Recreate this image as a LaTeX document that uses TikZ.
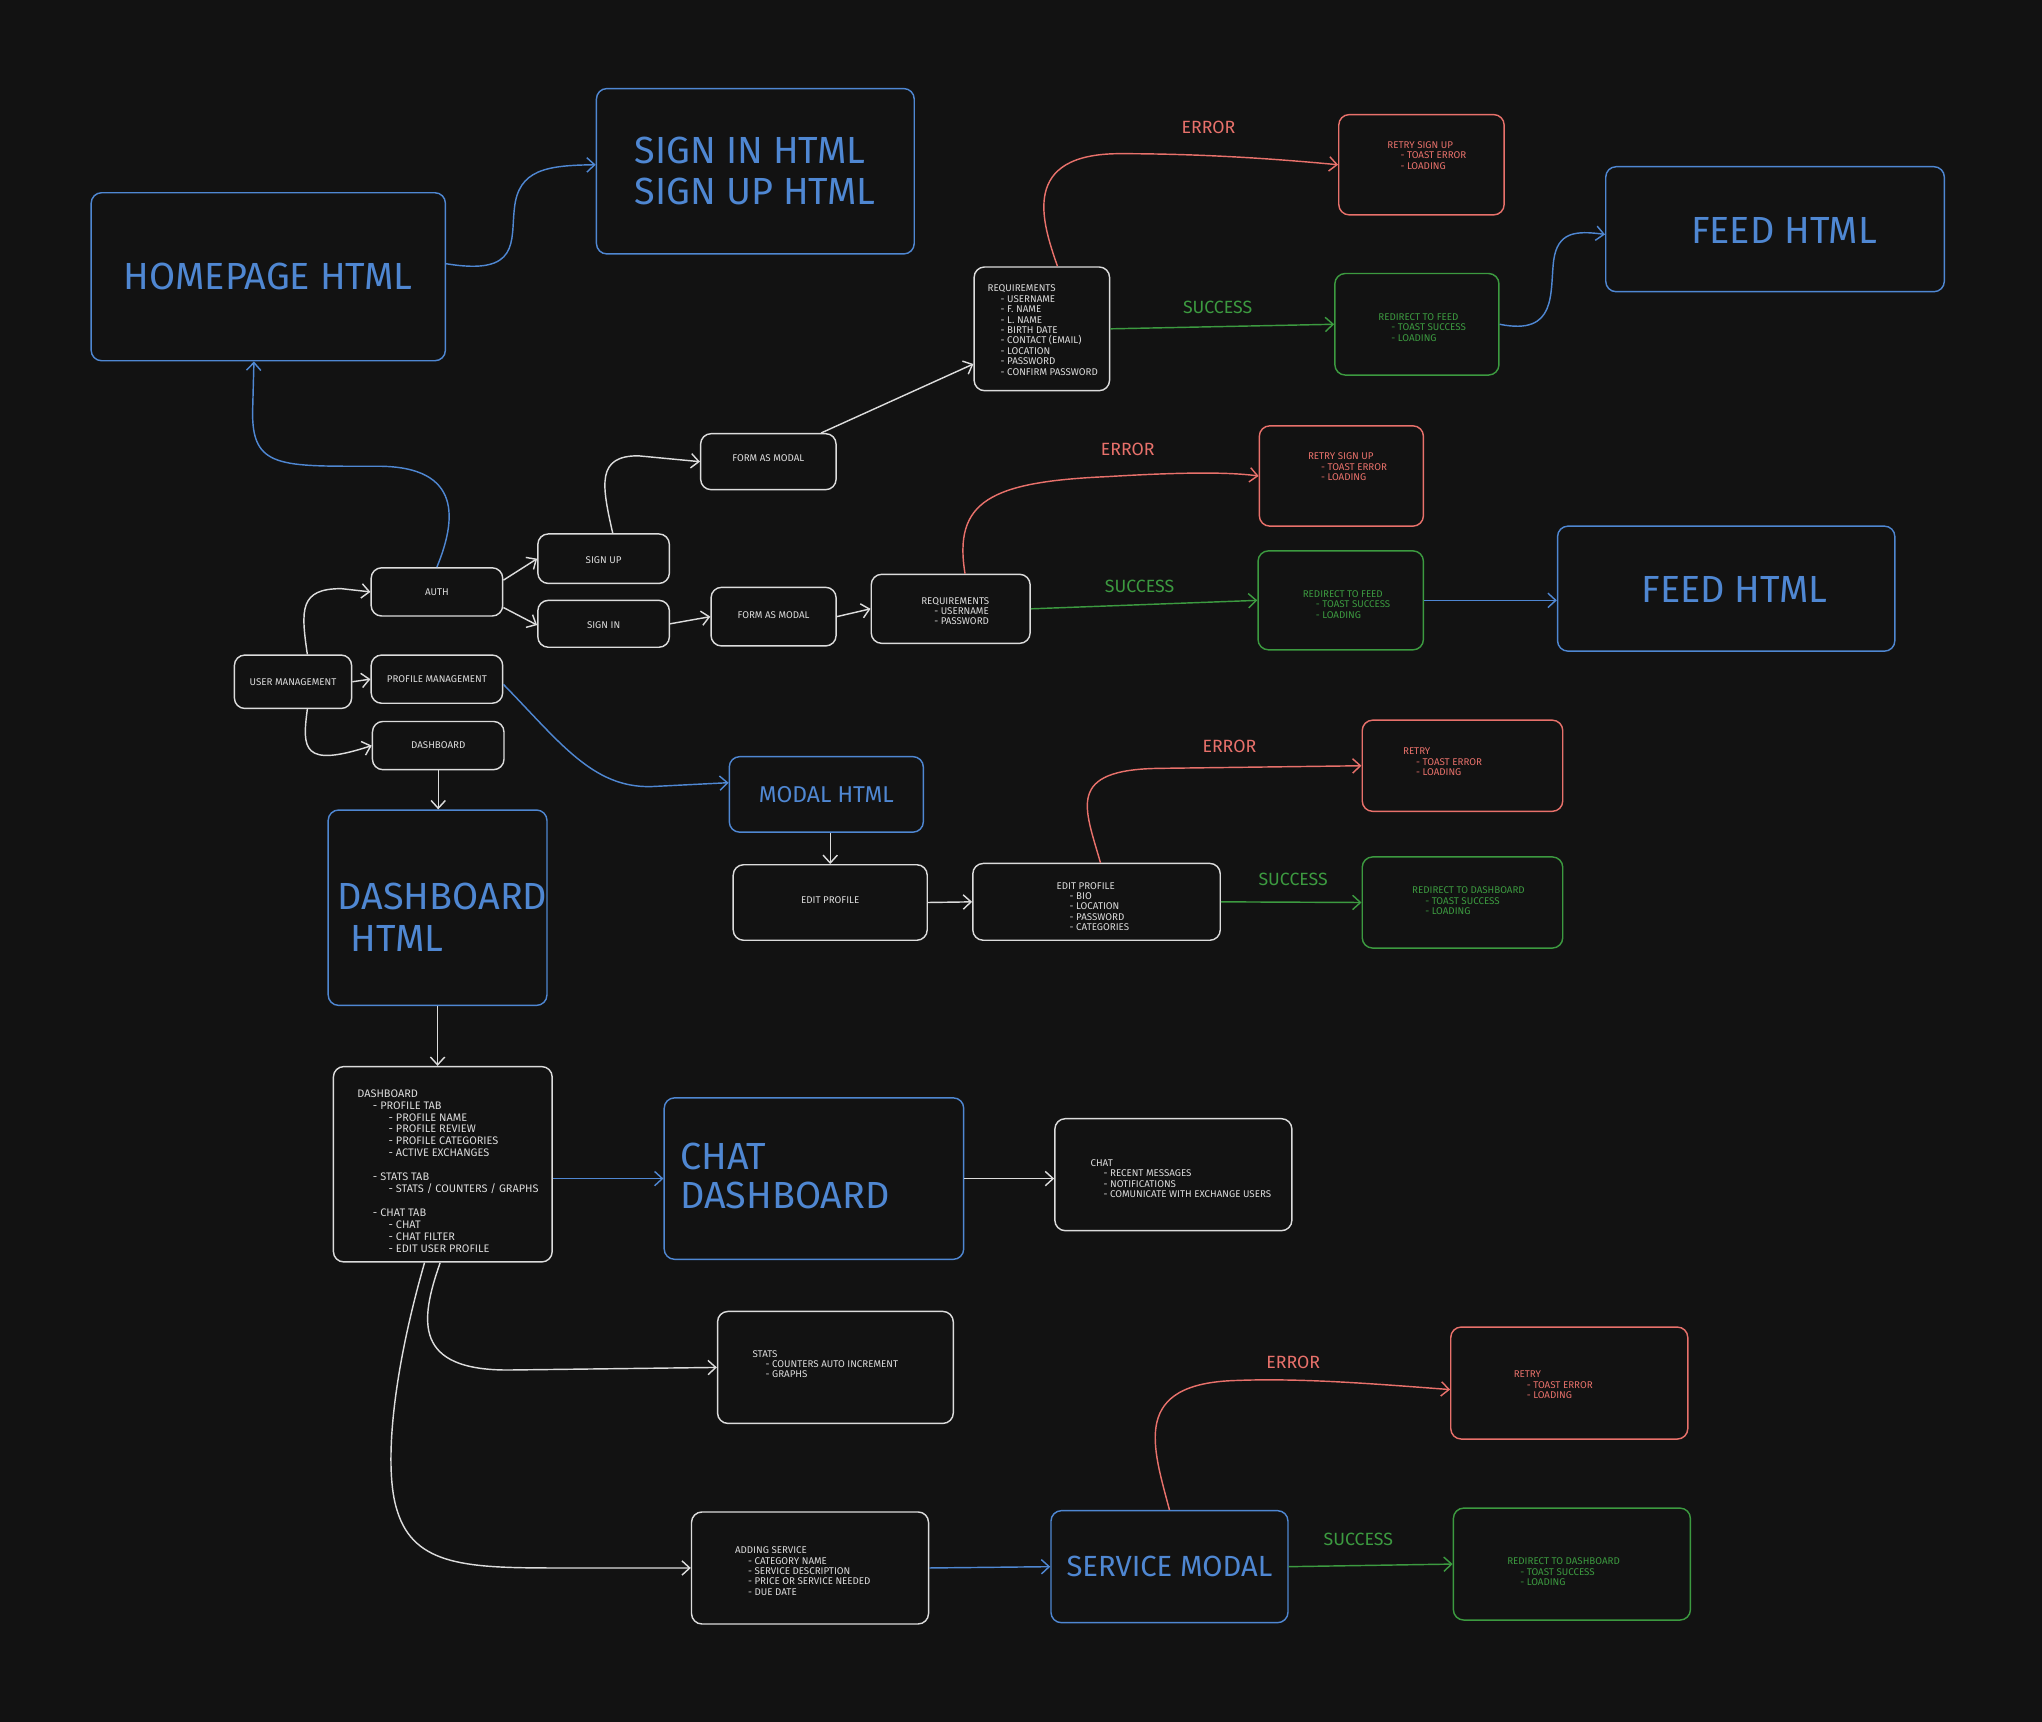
\documentclass[tikz,border=0pt]{standalone}
\usepackage{fontspec}
\setmainfont{Fira Sans}
\usetikzlibrary{arrows.meta,fit}
\definecolor{bgc}{HTML}{121212}
\definecolor{fgw}{HTML}{DCDCDC}
\definecolor{cblue}{HTML}{4F87D2}
\definecolor{cred}{HTML}{E8716B}
\definecolor{cgreen}{HTML}{3C9A40}
\newcommand\myi{\hspace*{5pt}}
\newcommand\myii{\hspace*{6pt}}
\begin{document}
\begin{tikzpicture}[x=0.5pt,y=-0.5pt,
  base/.style={draw, rounded corners=4pt, line width=0.55pt, inner sep=0pt},
  wbox/.style={base, draw=fgw},
  bbox/.style={base, draw=cblue},
  rbox/.style={base, draw=cred},
  gbox/.style={base, draw=cgreen},
  small/.style={font=\fontsize{3.75}{4}\selectfont},
  dsmall/.style={font=\fontsize{4.2}{4.6}\selectfont},
  big/.style={font=\fontsize{14.5}{15.5}\selectfont},
  lbl/.style={font=\fontsize{6.8}{7}\selectfont, inner sep=0pt},
  ctr/.style={inner sep=0pt, anchor=center},
  txt/.style={anchor=north west, align=left, inner sep=0pt},
  arr/.style={-{Straight Barb[length=3pt,width=5.5pt]}, line width=0.55pt},
  warr/.style={arr, draw=fgw},
  barr/.style={arr, draw=cblue},
  rarr/.style={arr, draw=cred},
  garr/.style={arr, draw=cgreen},
]
\fill[bgc] (0,0) rectangle (1568,1322);
\useasboundingbox (0,0) rectangle (1568,1322);

% ---------- boxes ----------
\node[bbox, fit={(70,148)(342,277)}] (home) {};
\node[ctr, big, text=cblue] (thome) at (home.center) {HOMEPAGE HTML};
\node[bbox, fit={(458,68)(702,195)}] (signhtml) {};
\node[txt, big, text=cblue] (tsignhtml) at (487,105) {SIGN IN HTML\\SIGN UP HTML};

\node[wbox, fit={(748,205)(852,300)}] (req1) {};
\node[txt, small, text=fgw] (treq1) at (758,218.4) {REQUIREMENTS\\\myi- USERNAME\\\myi- F. NAME\\\myi- L. NAME\\\myi- BIRTH DATE\\\myi- CONTACT (EMAIL)\\\myi- LOCATION\\\myi- PASSWORD\\\myi- CONFIRM PASSWORD};

\node[rbox, fit={(1028,88)(1155,165)}] (retry1) {};
\node[txt, small, text=cred] (tretry1) at (1065,108.4) {RETRY SIGN UP\\\myi- TOAST ERROR\\\myi- LOADING};

\node[gbox, fit={(1025,210)(1151,288)}] (redir1) {};
\node[txt, small, text=cgreen] (tredir1) at (1058,240.4) {REDIRECT TO FEED\\\myi- TOAST SUCCESS\\\myi- LOADING};

\node[bbox, fit={(1233,128)(1493,224)}] (feed1) {};
\node[ctr, big, text=cblue] (tfeed1) at ([xshift=3.5pt,yshift=-0.5pt]feed1.center) {FEED HTML};

\node[wbox, fit={(538,333)(642,376)}] (fm1) {};
\node[ctr, small, text=fgw] (tfm1) at ([yshift=1.5pt]fm1.center) {FORM AS MODAL};

\node[rbox, fit={(967,327)(1093,404)}] (retry2) {};
\node[txt, small, text=cred] (tretry2) at (1004,347.4) {RETRY SIGN UP\\\myi- TOAST ERROR\\\myi- LOADING};

\node[wbox, fit={(413,410)(514,448)}] (signup) {};
\node[ctr, small, text=fgw] (tsignup) at ([yshift=-0.5pt]signup.center) {SIGN UP};
\node[wbox, fit={(285,436)(386,473)}] (auth) {};
\node[ctr, small, text=fgw] (tauth) at (auth.center) {AUTH};
\node[wbox, fit={(413,461)(514,497)}] (signin) {};
\node[ctr, small, text=fgw] (tsignin) at ([yshift=-0.5pt]signin.center) {SIGN IN};
\node[wbox, fit={(546,451)(642,496)}] (fm2) {};
\node[ctr, small, text=fgw] (tfm2) at ([yshift=0.5pt]fm2.center) {FORM AS MODAL};

\node[wbox, fit={(669,441)(791,494)}] (req2) {};
\node[txt, small, text=fgw] (treq2) at (707,458.2) {REQUIREMENTS\\\myi- USERNAME\\\myi- PASSWORD};

\node[gbox, fit={(966,423)(1093,499)}] (redir2) {};
\node[txt, small, text=cgreen] (tredir2) at (1000,452.9) {REDIRECT TO FEED\\\myi- TOAST SUCCESS\\\myi- LOADING};

\node[bbox, fit={(1196,404)(1455,500)}] (feed2) {};
\node[ctr, big, text=cblue] (tfeed2) at ([xshift=3.2pt,yshift=-0.5pt]feed2.center) {FEED HTML};

\node[wbox, fit={(180,503)(270,544)}] (um) {};
\node[ctr, small, text=fgw] (tum) at (um.center) {USER MANAGEMENT};
\node[wbox, fit={(285,503)(386,540)}] (pm) {};
\node[ctr, small, text=fgw] (tpm) at (pm.center) {PROFILE MANAGEMENT};
\node[wbox, fit={(286,554)(387,591)}] (dsm) {};
\node[ctr, small, text=fgw] (tdsm) at (dsm.center) {DASHBOARD};

\node[bbox, fit={(252,622)(420,772)}] (dhtml) {};
\node[txt, text=cblue, font=\fontsize{14.5}{16}\selectfont] (tdhtml) at (259,678) {DASHBOARD\\\hspace*{5pt}HTML};

\node[bbox, fit={(560,581)(709,639)}] (modal) {};
\node[ctr, text=cblue, font=\fontsize{8.8}{10}\selectfont] (tmodal) at (modal.center) {MODAL HTML};
\node[wbox, fit={(563,664)(712,722)}] (ep1) {};
\node[ctr, small, text=fgw] (tep1) at ([yshift=1pt]ep1.center) {EDIT PROFILE};

\node[wbox, fit={(747,663)(937,722)}] (ep2) {};
\node[txt, small, text=fgw] (tep2) at (811,677) {EDIT PROFILE\\\myi- BIO\\\myi- LOCATION\\\myi- PASSWORD\\\myi- CATEGORIES};

\node[rbox, fit={(1046,553)(1200,623)}] (retry3) {};
\node[txt, small, text=cred] (tretry3) at (1077,574.1) {RETRY\\\myi- TOAST ERROR\\\myi- LOADING};

\node[gbox, fit={(1046,658)(1200,728)}] (redir3) {};
\node[txt, small, text=cgreen] (tredir3) at (1084,680.8) {REDIRECT TO DASHBOARD\\\myi- TOAST SUCCESS\\\myi- LOADING};

\node[wbox, fit={(256,819)(424,969)}] (dlist) {};
\node[txt, dsmall, text=fgw] (tdlist) at (274,836.1) {DASHBOARD\\\myii- PROFILE TAB\\\myii\myii- PROFILE NAME\\\myii\myii- PROFILE REVIEW\\\myii\myii- PROFILE CATEGORIES\\\myii\myii- ACTIVE EXCHANGES\\[4.6pt]\myii- STATS TAB\\\myii\myii- STATS / COUNTERS / GRAPHS\\[4.6pt]\myii- CHAT TAB\\\myii\myii- CHAT\\\myii\myii- CHAT FILTER\\\myii\myii- EDIT USER PROFILE};

\node[bbox, fit={(510,843)(740,967)}] (chatd) {};
\node[txt, text=cblue, font=\fontsize{14.5}{15}\selectfont] (tchatd) at (522,877) {CHAT\\DASHBOARD};

\node[wbox, fit={(810,859)(992,945)}] (chat) {};
\node[txt, small, text=fgw] (tchat) at (837,889.9) {CHAT\\\myi- RECENT MESSAGES\\\myi- NOTIFICATIONS\\\myi- COMUNICATE WITH EXCHANGE USERS};

\node[wbox, fit={(551,1007)(732,1093)}] (stats) {};
\node[txt, small, text=fgw] (tstats) at (577.5,1036.4) {STATS\\\myi- COUNTERS AUTO INCREMENT\\\myi- GRAPHS};

\node[wbox, fit={(531,1161)(713,1247)}] (adds) {};
\node[txt, small, text=fgw] (tadds) at (564,1187.4) {ADDING SERVICE\\\myi- CATEGORY NAME\\\myi- SERVICE DESCRIPTION\\\myi- PRICE OR SERVICE NEEDED\\\myi- DUE DATE};

\node[bbox, fit={(807,1160)(989,1246)}] (smodal) {};
\node[ctr, text=cblue, font=\fontsize{11.2}{12}\selectfont] (tsmodal) at (smodal.center) {SERVICE MODAL};

\node[rbox, fit={(1114,1019)(1296,1105)}] (retry4) {};
\node[txt, small, text=cred] (tretry4) at (1162,1052.4) {RETRY\\\myi- TOAST ERROR\\\myi- LOADING};

\node[gbox, fit={(1116,1158)(1298,1244)}] (redir4) {};
\node[txt, small, text=cgreen] (tredir4) at (1157,1195.9) {REDIRECT TO DASHBOARD\\\myi- TOAST SUCCESS\\\myi- LOADING};

% ---------- labels ----------
\node[lbl, text=cred] (e1) at (928,98) {ERROR};
\node[lbl, text=cgreen] (s1) at (935,236) {SUCCESS};
\node[lbl, text=cred] (e2) at (866,345) {ERROR};
\node[lbl, text=cgreen] (s2) at (875,450) {SUCCESS};
\node[lbl, text=cred] (e3) at (944,573) {ERROR};
\node[lbl, text=cgreen] (s3) at (993,675) {SUCCESS};
\node[lbl, text=cred] (e4) at (993,1046) {ERROR};
\node[lbl, text=cgreen] (s4) at (1043,1182) {SUCCESS};

% ---------- connectors ----------
\draw[barr] ([yshift=5pt]home.east) .. controls (400,212) and (392,185) .. (395,160) .. controls (398,130) and (420,127) .. ([yshift=2.5pt]signhtml.west);
\draw[barr] (auth.north) .. controls (350,400) and (356,358) .. (290,358) .. controls (215,358) and (193,360) .. (194,315) -- ([xshift=-5.5pt]home.south);
\draw[warr] ([xshift=5.5pt]um.north) .. controls (231,468) and (230,452) .. (262,452) -- (auth.west);
\draw[warr] (um.east) -- (pm.west);
\draw[warr] ([xshift=5.5pt]um.south) .. controls (232,575) and (232,590) .. (dsm.west);
\draw[warr] ([yshift=4.5pt]auth.east) -- (signup.west);
\draw[warr] ([yshift=-6pt]auth.east) -- ([yshift=-0.5pt]signin.west);
\draw[warr] ([xshift=3.5pt]signup.north) .. controls (462,372) and (458,350) .. (490,350) -- (fm1.west);
\draw[warr] ([xshift=-6pt]fm1.north east) -- ([yshift=-13.5pt]req1.west);
\draw[warr] (signin.east) -- (fm2.west);
\draw[warr] (fm2.east) -- (req2.west);

\draw[rarr] ([xshift=6pt]req1.north) .. controls (800,170) and (783,118) .. (860,118) .. controls (930,118) and (990,123) .. (retry1.west);
\draw[garr] (req1.east) -- (redir1.west);
\draw[barr] (redir1.east) .. controls (1196,258) and (1190,225) .. (1193,200) .. controls (1196,178) and (1210,177) .. ([yshift=-2pt]feed1.west);

\draw[rarr] ([xshift=5.5pt]req2.north) .. controls (732,385) and (760,370) .. (850,366) .. controls (900,363) and (940,362) .. (retry2.west);
\draw[garr] (req2.east) -- (redir2.west);
\draw[barr] (redir2.east) -- (redir2.east -| feed2.west);

\draw[barr] ([yshift=-2pt]pm.east) .. controls (430,570) and (455,605) .. (500,604) -- ([yshift=4.5pt]modal.west);
\draw[warr] (dsm.south) -- (dsm.south |- dhtml.north);
\draw[warr] ([xshift=1.5pt]modal.south) -- ([xshift=1.5pt]modal.south |- ep1.north);
\draw[warr] (ep1.east) -- (ep2.west);
\draw[rarr] ([xshift=1.5pt]ep2.north) .. controls (833,620) and (818,591) .. (890,590) -- (retry3.west);
\draw[garr] (ep2.east) -- (redir3.west);

\draw[warr] (dhtml.south) -- (dhtml.south |- dlist.north);
\draw[barr] (dlist.east |- chatd.west) -- (chatd.west);
\draw[warr] (chatd.east) -- (chatd.east -| chat.west);
\draw[warr] ([xshift=-1pt]dlist.south) .. controls (322,1015) and (318,1052) .. (390,1052) -- (stats.west);
\draw[warr] ([xshift=-7pt]dlist.south) .. controls (300,1060) and (295,1130) .. (305,1160) .. controls (318,1203) and (360,1204) .. (430,1204) -- (adds.west);
\draw[barr] (adds.east) -- (smodal.west);
\draw[rarr] (smodal.north) .. controls (885,1110) and (868,1062) .. (950,1060) .. controls (1000,1058) and (1060,1063) .. ([yshift=-2.5pt]retry4.west);
\draw[garr] (smodal.east) -- (redir4.west);
\end{tikzpicture}
\end{document}
